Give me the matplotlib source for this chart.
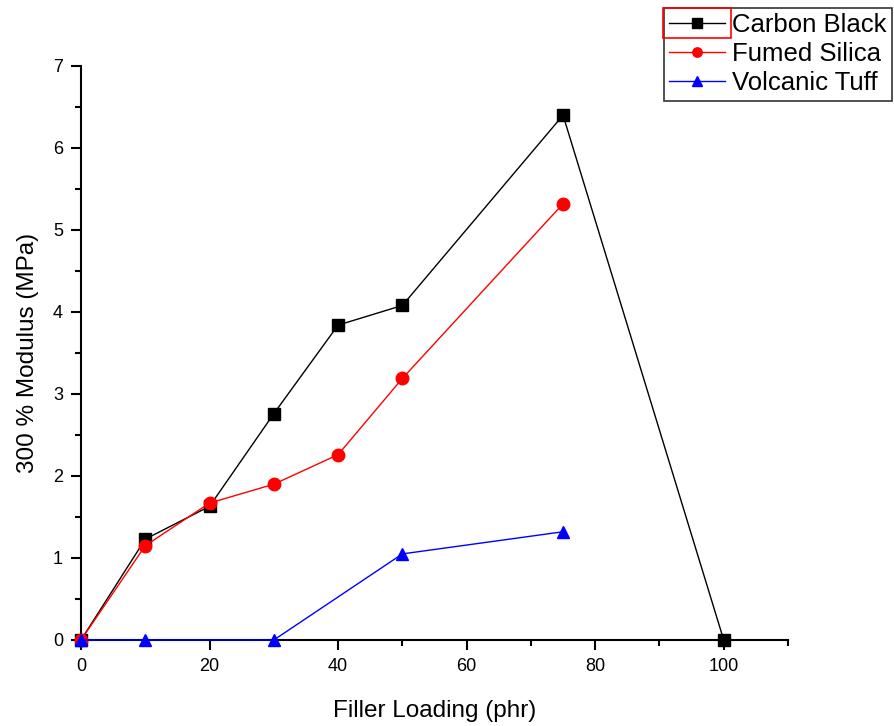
import matplotlib
matplotlib.use("Agg")
import matplotlib.pyplot as plt
from matplotlib.patches import Rectangle
from matplotlib.ticker import MultipleLocator

plt.rcParams['font.family'] = ['Liberation Sans', 'DejaVu Sans']

# Filler loading (phr) and 300% modulus (MPa)
cb_loading = [0, 10, 20, 30, 40, 50, 75, 100]
cb_modulus = [0.0, 1.23, 1.63, 2.76, 3.84, 4.08, 6.40, 0.0]

fs_loading = [0, 10, 20, 30, 40, 50, 75]
fs_modulus = [0.0, 1.15, 1.67, 1.90, 2.26, 3.19, 5.32]

vt_loading = [0, 10, 30, 50, 75]
vt_modulus = [0.0, 0.0, 0.0, 1.05, 1.32]

x_ticks = [0, 20, 40, 60, 80, 100]
y_ticks = [0, 1, 2, 3, 4, 5, 6, 7]

fig = plt.figure(figsize=(8.94, 7.26), dpi=100)
ax = fig.add_axes([81 / 894, 1 - 640 / 726, (788 - 81) / 894, (640 - 66) / 726])

ax.plot(cb_loading, cb_modulus, color='black', marker='s', markersize=9,
        linewidth=1.0, label='Carbon Black', clip_on=False, zorder=3)
ax.plot(fs_loading, fs_modulus, color='red', marker='o', markersize=9,
        linewidth=1.0, label='Fumed Silica', clip_on=False, zorder=3)
ax.plot(vt_loading, vt_modulus, color='blue', marker='^', markersize=9,
        linewidth=1.0, label='Volcanic Tuff', clip_on=False, zorder=4)

ax.set_xlim(0, 110)
ax.set_ylim(0, 7)
ax.set_xticks(x_ticks)
ax.set_yticks(y_ticks)
ax.xaxis.set_minor_locator(MultipleLocator(10))
ax.yaxis.set_minor_locator(MultipleLocator(0.5))

for side in ('top', 'right'):
    ax.spines[side].set_visible(False)
for side in ('left', 'bottom'):
    ax.spines[side].set_linewidth(1.5)

ax.tick_params(which='major', direction='out', length=7, width=1.5,
               labelsize=13, pad=6)
ax.tick_params(which='minor', direction='out', length=4, width=1.5)

ax.set_xlabel('Filler Loading (phr)', fontsize=17.5, labelpad=18)
ax.set_ylabel('300 % Modulus (MPa)', fontsize=17.5, labelpad=10)

leg = fig.legend(loc='upper right', bbox_to_anchor=(892 / 894, 1 - 8 / 726),
                 fontsize=18.5, frameon=True, fancybox=False, handlelength=2.15,
                 markerscale=0.75, borderpad=0.2, labelspacing=0.2,
                 handletextpad=0.3, borderaxespad=0)
leg.get_frame().set_edgecolor('black')
leg.get_frame().set_linewidth(1.2)

# red selection box around the first legend sample
fig.canvas.draw()
hb = leg.legend_handles[0].get_window_extent(fig.canvas.get_renderer())
cy = 0.5 * (hb.y0 + hb.y1)
W, H = fig.bbox.width, fig.bbox.height
fig.add_artist(Rectangle(((hb.x0 - 2) / W, (cy - 15) / H), (hb.x1 - hb.x0 + 4) / W, 30 / H,
                         transform=fig.transFigure, fill=False,
                         edgecolor='red', linewidth=1.2, zorder=10))

fig.savefig('out.png', dpi=100)
